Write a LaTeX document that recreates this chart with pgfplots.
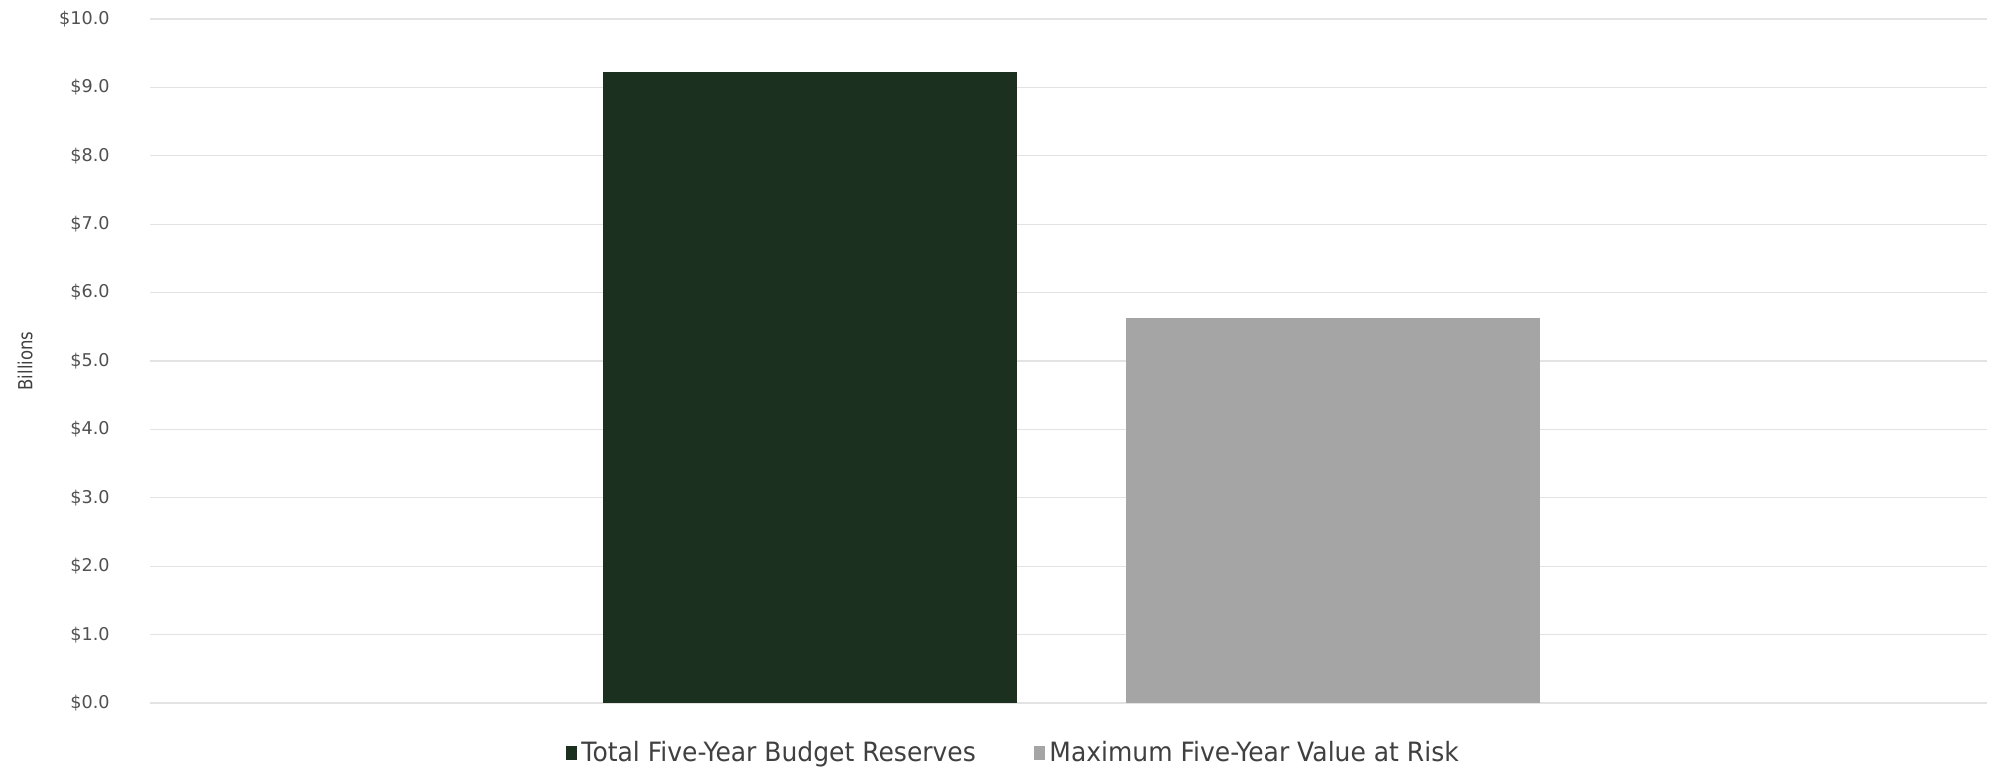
\documentclass[border=0pt]{standalone}
\usepackage{pgfplots}
\pgfplotsset{compat=1.18}
\usepackage{fontspec}
\setmainfont{DejaVu Sans}
\newfontfamily\legfont{DejaVu Sans}[FakeStretch=0.94]
\newfontfamily\labfont{DejaVu Sans}[FakeStretch=0.85]
\definecolor{bargreen}{HTML}{1B301E}
\definecolor{bargrey}{HTML}{A5A5A5}
\definecolor{gridc}{HTML}{E3E3E3}
\definecolor{tickc}{HTML}{505050}
\definecolor{legc}{HTML}{404040}
\pgfplotsset{sqleg/.style={legend image code/.code={\fill[##1] (0pt,-3.5pt) rectangle (5.8pt,3.5pt);}}}
\begin{document}
\begin{tikzpicture}
\begin{axis}[
  width=918.5pt, height=342pt, scale only axis,
  xmin=-1.261, xmax=2.25, ymin=0, ymax=10,
  ytick={0,1,...,10},
  /pgf/number format/assume math mode=true,
  yticklabel={\$\pgfmathprintnumber[fixed,fixed zerofill,precision=1]{\tick}},
  xtick=\empty,
  axis line style={draw=none},
  major tick length=0pt,
  ymajorgrids, grid style={gridc, line width=0.6pt},
  yticklabel style={font=\fontsize{8.8}{10}\selectfont, text=tickc, anchor=east, inner sep=0pt, xshift=-20pt},
  ylabel={Billions},
  ylabel style={font=\labfont\fontsize{9.7}{11}\selectfont, text=legc, at={(axis description cs:-0.068,0.5)}, anchor=center},
  legend columns=2,
  legend style={draw=none, fill=none, at={(0.4705,-0.073)}, anchor=center, font=\legfont\fontsize{13.3}{15}\selectfont, text=legc, /tikz/every even column/.append style={column sep=27pt}},
  ybar, bar shift=0pt, bar width=0.791,
]
\addplot[fill=bargreen, draw=none, sqleg] coordinates {(0,9.22)};
\addlegendentry{Total Five-Year Budget Reserves}
\addplot[fill=bargrey, draw=none, sqleg] coordinates {(1,5.63)};
\addlegendentry{Maximum Five-Year Value at Risk}
\coordinate (bl) at (rel axis cs:0,0);
\coordinate (tr) at (rel axis cs:1,1);
\end{axis}
\pgfresetboundingbox
\path[use as bounding box] ([shift={(-75pt,-32.5pt)}]bl) rectangle ([shift={(2.5pt,9.5pt)}]tr);
\end{tikzpicture}
\end{document}
